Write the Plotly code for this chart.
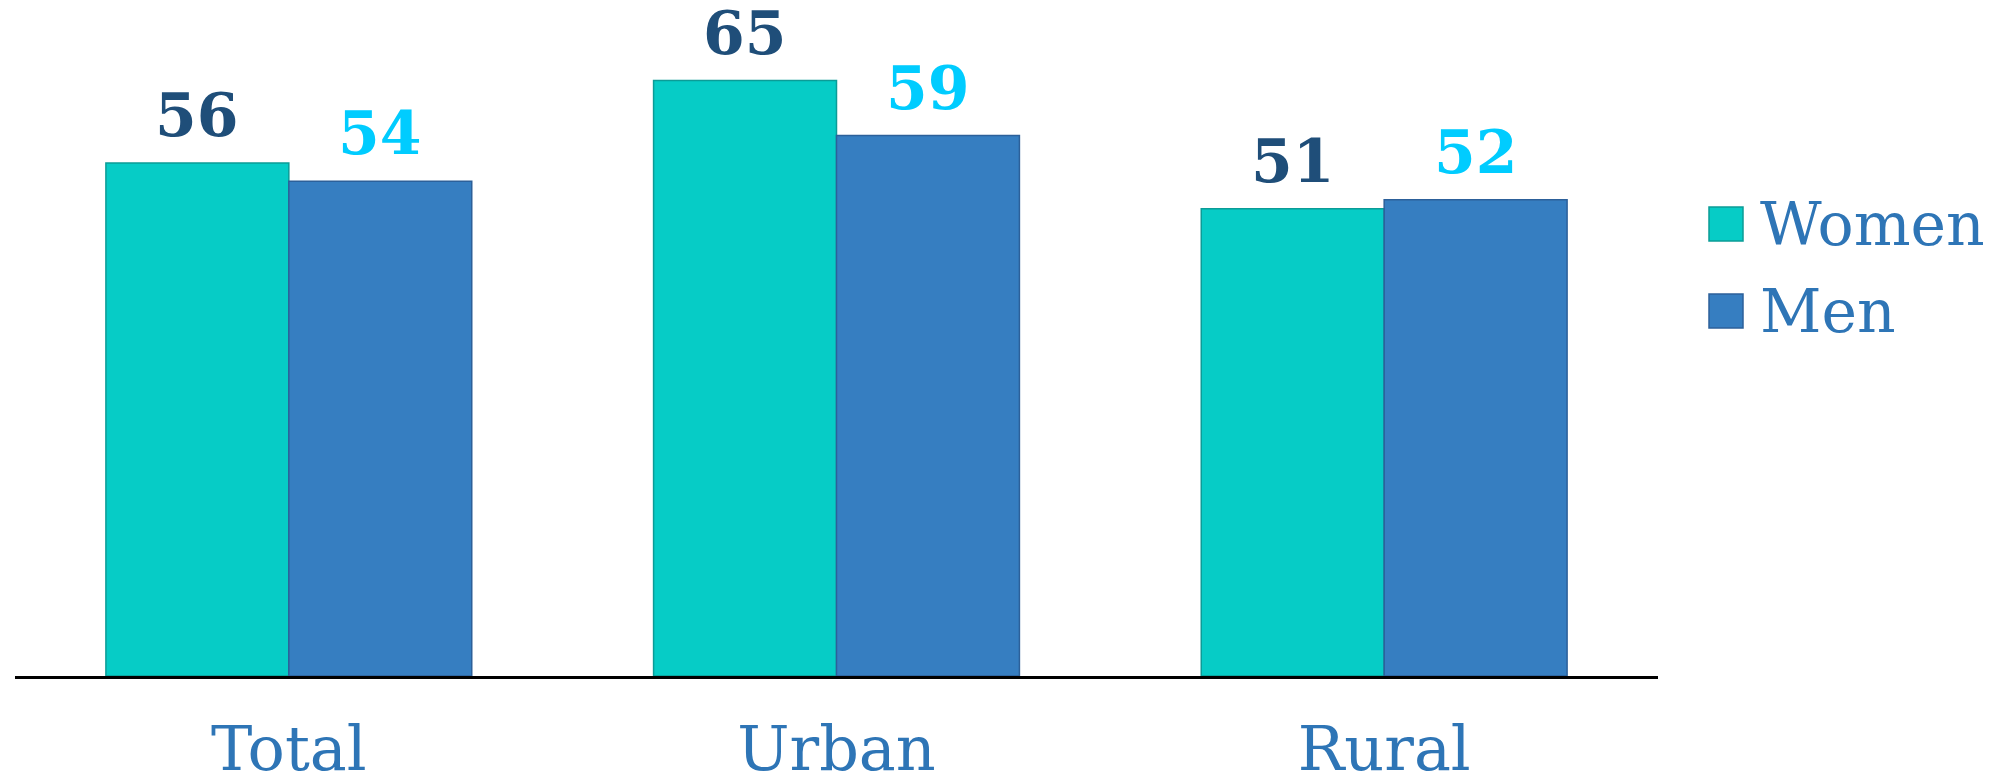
import plotly.graph_objects as go

# data
categories = ["Total", "Urban", "Rural"]
series_names = ["Women", "Men"]
women = [56, 65, 51]
men = [54, 59, 52]

FILL = ["#06CCC6", "#367EC1"]
EDGE = ["#0B9C97", "#2C609A"]
LABEL_COLORS = ["#1F4E79", "#00CCFF"]
TEXT_BLUE = "#2E75B6"

W, H = 2005, 776
M_L, M_R, M_T, M_B = 15, 347, 0, 100
PLOT_W = W - M_L - M_R
PLOT_H = H - M_T - M_B
BARGAP = 0.332
BAR_PX = PLOT_W / len(categories) * (1 - BARGAP) / 2


def px2x(px):
    return (px - M_L) / PLOT_W


def py2y(py):
    return (M_T + PLOT_H - py) / PLOT_H


fig = go.Figure()
for name, vals, fill, edge in zip(series_names, [women, men], FILL, EDGE):
    fig.add_trace(go.Bar(
        name=name,
        x=categories,
        y=vals,
        marker=dict(color=fill, line=dict(color=edge, width=1.5)),
        showlegend=False,
        hoverinfo="skip",
    ))

annotations = []
for i, (vals, col) in enumerate(zip([women, men], LABEL_COLORS)):
    shift = (i - 0.5) * BAR_PX
    for c, v in zip(categories, vals):
        annotations.append(dict(
            x=c, y=v, xref="x", yref="y", text=str(v), showarrow=False,
            yanchor="bottom", xanchor="center", xshift=shift, yshift=11,
            font=dict(family="DejaVu Serif", size=60, color=col, weight="bold"),
        ))

# custom legend with large square keys
shapes = []
for i, (name, fill, edge) in enumerate(zip(series_names, FILL, EDGE)):
    top = 207 + i * 87
    shapes.append(dict(
        type="rect", xref="paper", yref="paper",
        x0=px2x(1709), x1=px2x(1743), y0=py2y(top + 34), y1=py2y(top),
        fillcolor=fill, line=dict(color=edge, width=1.5),
    ))
    annotations.append(dict(
        x=px2x(1758), y=py2y(top + 17), xref="paper", yref="paper",
        text=name, showarrow=False, xanchor="left", yanchor="middle",
        font=dict(family="DejaVu Serif", size=60, color=TEXT_BLUE),
    ))

fig.update_layout(
    width=W, height=H,
    margin=dict(l=M_L, r=M_R, t=M_T, b=M_B),
    paper_bgcolor="white",
    plot_bgcolor="white",
    barmode="group",
    bargap=BARGAP,
    bargroupgap=0,
    showlegend=False,
    annotations=annotations,
    shapes=shapes,
    xaxis=dict(
        showline=True, linecolor="black", linewidth=2.5,
        showgrid=False, ticks="", automargin=False, fixedrange=True,
        tickfont=dict(family="DejaVu Serif", size=62, color=TEXT_BLUE),
        ticklabelstandoff=17,
    ),
    yaxis=dict(
        range=[0, 73.8], visible=False, showgrid=False, zeroline=False,
        fixedrange=True,
    ),
)

# drop the default 8px body margin so the figure fills the window
fig.write_html(
    "out.html",
    config={"displayModeBar": False},
    post_script="document.body.style.margin='0';",
)
